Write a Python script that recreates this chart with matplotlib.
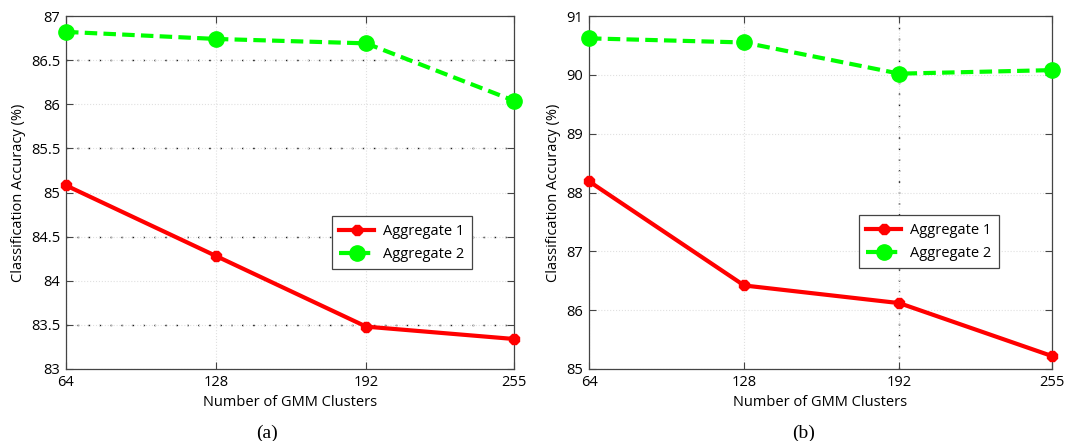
import matplotlib
matplotlib.use('Agg')
import matplotlib.pyplot as plt

# data
clusters = [64, 128, 192, 255]
agg1_a = [85.08, 84.28, 83.48, 83.34]
agg2_a = [86.82, 86.74, 86.69, 86.04]
agg1_b = [88.19, 86.42, 86.12, 85.22]
agg2_b = [90.62, 90.55, 90.02, 90.08]

yticks_a = [83, 83.5, 84, 84.5, 85, 85.5, 86, 86.5, 87]
ytick_labels_a = ['83', '83.5', '84', '84.5', '85', '85.5', '86', '86.5', '87']
yticks_b = [85, 86, 87, 88, 89, 90, 91]
dark_h_a = [83.5, 84.5, 85.5, 86.5]
dark_v_b = [192]

plt.rcParams['font.family'] = ['Open Sans', 'DejaVu Sans']


def draw(ax, y1, y2, yticks, ylabels, legend_pos):
    ax.set_xlim(64, 255)
    ax.set_ylim(yticks[0], yticks[-1])
    ax.set_xticks(clusters)
    ax.set_yticks(yticks)
    if ylabels:
        ax.set_yticklabels(ylabels)
    ax.grid(True, linestyle=':', color='#e0e0e0', linewidth=0.8)
    ax.plot(clusters, y1, color='#ff0000', lw=3, marker='8', ms=8,
            label='Aggregate 1', zorder=3, clip_on=False)
    ax.plot(clusters, y2, color='#00ff00', lw=3, ls='--', dashes=(3, 1.5),
            marker='o', ms=11, label='Aggregate 2', zorder=3, clip_on=False)
    ax.tick_params(direction='in', top=True, right=True, length=5,
                   labelsize=10.5, color='#444444', pad=4)
    for s in ax.spines.values():
        s.set_color('#444444')
        s.set_linewidth(0.9)
    ax.set_xlabel('Number of GMM Clusters', fontsize=10.5, labelpad=4)
    ax.set_ylabel('Classification Accuracy (%)', fontsize=10.5, labelpad=4)
    leg = ax.legend(loc='lower left', bbox_to_anchor=legend_pos, fontsize=10.5,
                    fancybox=False, framealpha=1, edgecolor='#444444',
                    handlelength=2.4, borderpad=0.5, labelspacing=0.55,
                    handletextpad=0.6, borderaxespad=0)
    leg.get_frame().set_linewidth(0.9)


def main():
    fig = plt.figure(figsize=(10.79, 4.41), dpi=100)
    ax1 = fig.add_axes([66 / 1079, 1 - 369 / 441, 448 / 1079, 353 / 441])
    ax2 = fig.add_axes([589 / 1079, 1 - 369 / 441, 463 / 1079, 353 / 441])

    draw(ax1, agg1_a, agg2_a, yticks_a, ytick_labels_a, (0.594, 0.283))
    draw(ax2, agg1_b, agg2_b, yticks_b, None, (0.583, 0.286))

    for y in dark_h_a:
        ax1.axhline(y, color='#222222', ls=(0, (1.3, 6.6)), lw=1, zorder=1)
    for x in dark_v_b:
        ax2.axvline(x, color='#222222', ls=(0, (1.3, 6.6)), lw=1, zorder=1)

    fig.text(267 / 1079, 1 - 438 / 441, '(a)', family='Liberation Serif',
             fontsize=14, ha='center', va='baseline')
    fig.text(804 / 1079, 1 - 438 / 441, '(b)', family='Liberation Serif',
             fontsize=14, ha='center', va='baseline')

    fig.savefig('out.png', dpi=100)


if __name__ == '__main__':
    main()
